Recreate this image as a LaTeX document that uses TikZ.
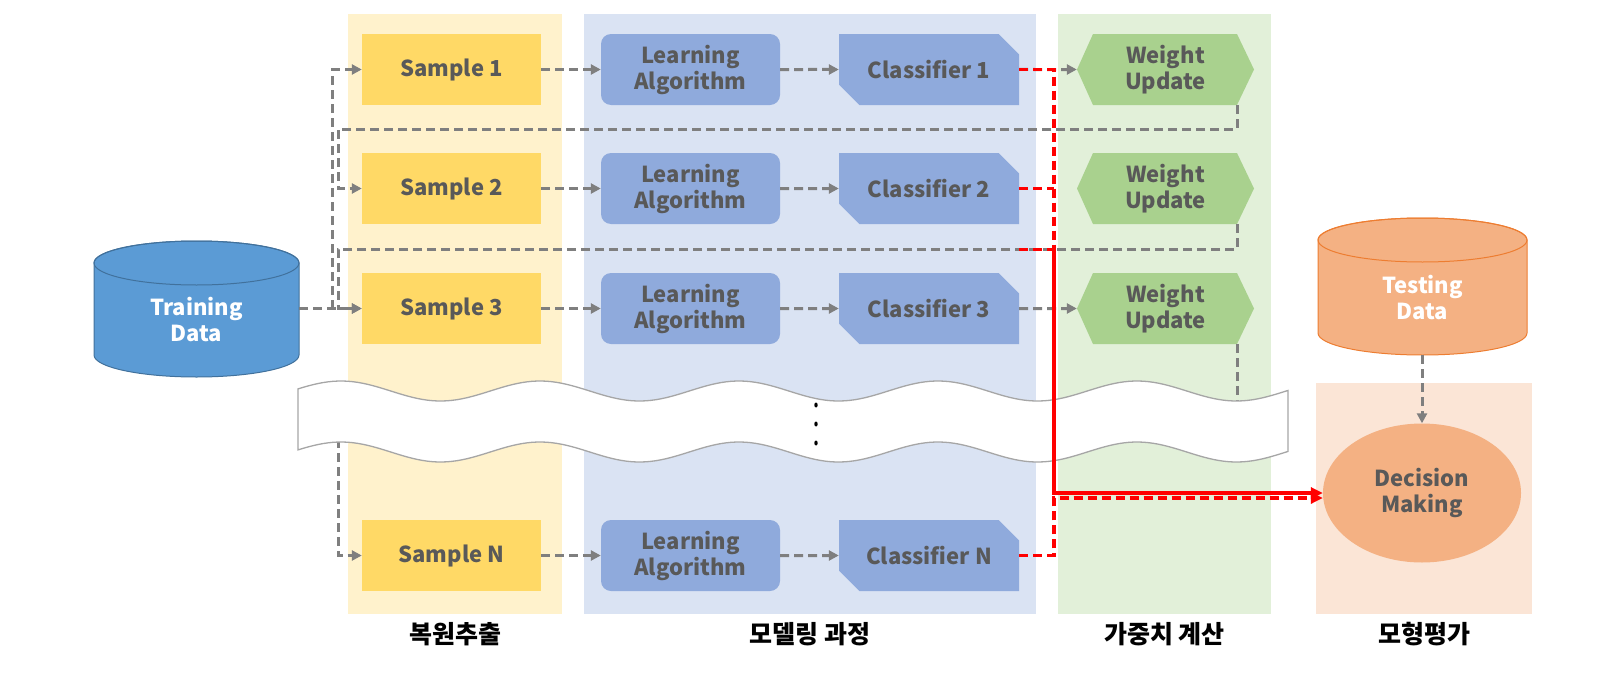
\documentclass[tikz,border=0pt]{standalone}
\usepackage{fontspec}
\setmainfont{Noto Sans CJK KR}
\usetikzlibrary{arrows.meta,shapes.misc,shapes.geometric,calc}
\definecolor{sampleyellow}{HTML}{FFD966}
\definecolor{yellowbg}{HTML}{FFF2CC}
\definecolor{learnblue}{HTML}{8FAADC}
\definecolor{bluebg}{HTML}{DAE3F3}
\definecolor{wugreen}{HTML}{A9D18E}
\definecolor{greenbg}{HTML}{E2F0D9}
\definecolor{orangebg}{HTML}{FBE5D6}
\definecolor{testorange}{HTML}{F4B183}
\definecolor{testedge}{HTML}{ED7D31}
\definecolor{trainblue}{HTML}{5B9BD5}
\definecolor{trainedge}{HTML}{41719C}
\definecolor{textgray}{HTML}{595959}
\definecolor{linegray}{HTML}{7F7F7F}
\definecolor{wavegray}{HTML}{A6A6A6}
\tikzset{>=Triangle}

\begin{document}
\begin{tikzpicture}[x=1pt,y=-1pt,
  boxfont/.style={font=\fontsize{22}{26}\selectfont\bfseries,text=textgray,align=center},
  samplebox/.style={boxfont,fill=sampleyellow,minimum width=179pt,minimum height=71pt,inner sep=0},
  learnbox/.style={boxfont,fill=learnblue,rounded corners=10pt,minimum width=179pt,minimum height=71pt,inner sep=0},
  clfbox/.style={boxfont,fill=learnblue,chamfered rectangle,
    chamfered rectangle corners={north east,south west},
    chamfered rectangle xsep=11pt,chamfered rectangle ysep=11pt,
    minimum width=180pt,minimum height=71pt,inner sep=0},
  wubox/.style={boxfont,minimum width=177pt,minimum height=71pt,inner sep=0,
    path picture={\fill[wugreen] (path picture bounding box.west)
      -- ([xshift=16pt]path picture bounding box.north west)
      -- ([xshift=-17pt]path picture bounding box.north east)
      -- (path picture bounding box.east)
      -- ([xshift=-17pt]path picture bounding box.south east)
      -- ([xshift=16pt]path picture bounding box.south west) -- cycle;}},
  dbtext/.style={boxfont,text=white},
  collabel/.style={font=\fontsize{25}{29}\selectfont\bfseries,text=black},
  grayarrow/.style={draw=linegray,line width=3pt,dash pattern=on 9pt off 5pt,
    arrows={-Triangle[length=10pt,width=10pt]}},
  redline/.style={draw=red,line width=3.2pt},
  reddash/.style={redline,dash pattern=on 9pt off 5pt},
  redtip/.style={arrows={-Triangle[length=12pt,width=11pt]}}]
\useasboundingbox (0,0) rectangle (1622,696);

% column backgrounds
\fill[yellowbg] (348,13.5) rectangle (562,614);
\fill[bluebg] (584,13.5) rectangle (1036,614);
\fill[greenbg] (1058,13.5) rectangle (1271,614);
\fill[orangebg] (1316,383) rectangle (1532,614);

% data stores
\path[fill=trainblue,draw=trainedge,line width=1pt] (94,263) -- (94,355)
  arc[start angle=180,end angle=0,x radius=102.5,y radius=22] -- (299,263)
  arc[start angle=0,end angle=-180,x radius=102.5,y radius=22] -- cycle;
\draw[trainedge,line width=1pt] (196.5,263) ellipse[x radius=102.5,y radius=22];
\path[fill=testorange,draw=testedge,line width=1pt] (1318,240) -- (1318,333)
  arc[start angle=180,end angle=0,x radius=104.5,y radius=22] -- (1527,240)
  arc[start angle=0,end angle=-180,x radius=104.5,y radius=22] -- cycle;
\draw[testedge,line width=1pt] (1422.5,240) ellipse[x radius=104.5,y radius=22];
\node[dbtext] (train) at (196.5,320) {Training\\Data};
\node[dbtext] (test) at (1422.5,298) {Testing\\Data};
\coordinate (trainout) at (299,0);
\coordinate (testout) at (1422,355);

% rows
\foreach \n/\y in {1/69.5,2/188.5,3/308.5,N/555.5} {
  \node[samplebox] (s\n) at (451.5,\y) {Sample \n};
  \node[learnbox] (la\n) at (690.5,\y) {Learning\\Algorithm};
  \node[clfbox] (c\n) at (929,\y) {Classifier \n};
  \draw[grayarrow] (s\n) -- (la\n);
  \draw[grayarrow] (la\n) -- (c\n);
}
\foreach \n/\y in {1/69.5,2/188.5,3/308.5}
  \node[wubox] (wu\n) at (1165.5,\y) {Weight\\Update};

\node[ellipse,fill=testorange,minimum width=198pt,minimum height=139pt,inner sep=0,
  boxfont] (dm) at (1422,493) {Decision\\Making};

\coordinate (redx) at (1054,0);
\coordinate (fbx) at (338,0);
\coordinate (tdx) at (332,0);

% training data to samples
\draw[grayarrow] (trainout |- s3) -- (s3.west);
\draw[grayarrow] (tdx |- s3) |- (s1.west);

% weight update feedback
\draw[grayarrow] ([xshift=71.5pt]wu1.south) -- ++(0,24) coordinate (fb1)
  -- (fb1 -| fbx) |- (s2.west);
\draw[grayarrow] ([xshift=71.5pt]wu2.south) -- ++(0,25) coordinate (fb2)
  -- (fb2 -| fbx) |- (s3.west);
\draw[grayarrow] ([xshift=71.5pt]wu3.south) -- ++(0,76) coordinate (fb3)
  -- (fb3 -| fbx) |- (sN.west);
\draw[grayarrow] (c1) -- (wu1);
\draw[grayarrow] (c3) -- (wu3);
\draw[grayarrow] (testout) -- (dm.north);

% skipped rows
\draw[wavegray,line width=1.3pt,fill=white]
  plot[domain=298:1288,samples=200] (\x,{391-10*cos(1.809045*(\x-341))})
  -- plot[domain=1288:298,samples=200] (\x,{452-10*cos(1.809045*(\x-341))}) -- cycle;
\foreach \y in {405,424,443}
  \fill (816,\y) ellipse[x radius=1.7pt,y radius=2.5pt];

% classifier outputs
\draw[reddash] (c1.east) -- (c1.east -| redx) -- (redx |- fb2);
\draw[reddash] (c2.east) -- (c2.east -| redx);
\draw[reddash] (c2.east |- fb2) -- (redx |- fb2);
\draw[redline,redtip] (redx |- fb2) -- (redx |- dm.west) -- (dm.west);
\draw[reddash,redtip] (cN.east) -| ([yshift=-5pt]dm.west -| redx)
  -- ([yshift=-5pt]dm.west);

% stage labels
\node[collabel] (lbl1) at (455,634) {복원추출};
\node[collabel] (lbl2) at (810,634) {모델링 과정};
\node[collabel] (lbl3) at (1164.5,634) {가중치 계산};
\node[collabel] (lbl4) at (1424,634) {모형평가};
\end{tikzpicture}
\end{document}
